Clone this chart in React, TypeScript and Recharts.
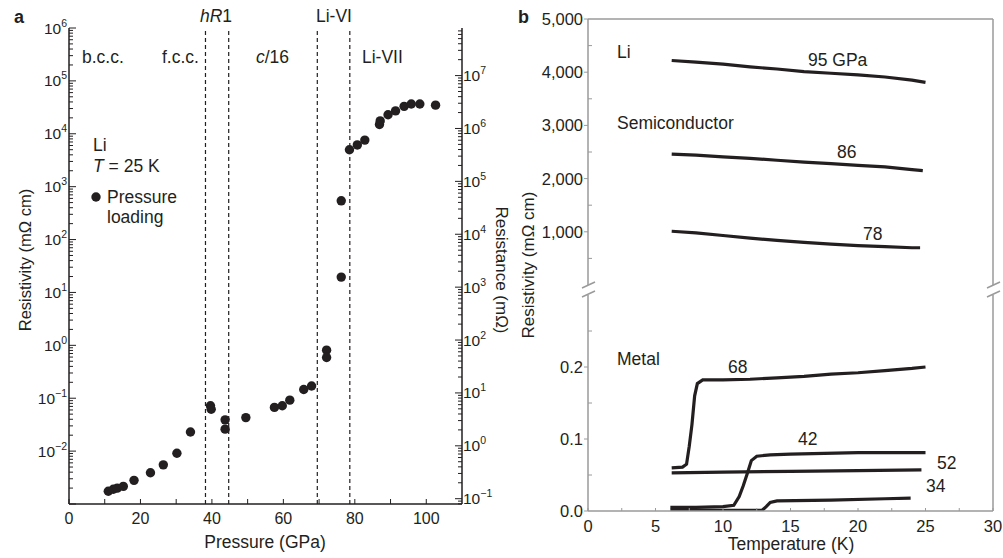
import React from 'react';
import { ScatterChart, Scatter, XAxis, YAxis, ReferenceLine, LineChart, Line } from 'recharts';

const FONT = '"Liberation Sans", Arial, Helvetica, sans-serif';
const INK = '#231f20';
const GRAY = '#9a9a9a';

// ---------- Panel a data ----------
const pressureGPa = [11.0, 12.4, 13.5, 15.2, 18.2, 22.8, 26.4, 30.2, 34.0, 39.6, 39.8, 43.7, 43.7, 49.5, 57.5, 59.7, 61.8, 65.7, 67.9, 72.1, 72.1, 76.2, 76.2, 78.5, 80.7, 82.8, 86.9, 87.1, 89.3, 91.4, 93.8, 95.8, 98.2, 102.6];
const resistivityA = [0.00174, 0.0019, 0.002, 0.00215, 0.0028, 0.0039, 0.0055, 0.0091, 0.023, 0.072, 0.062, 0.039, 0.026, 0.043, 0.067, 0.072, 0.092, 0.146, 0.17, 0.81, 0.59, 19.5, 540, 5000, 6150, 7600, 15000, 17500, 22900, 27100, 33000, 36500, 36500, 34800];
const phaseBoundaries = [38.2, 44.7, 69.5, 78.6];
const pressureTicks = [0, 10, 20, 30, 40, 50, 60, 70, 80, 90, 100];
const leftDecades = [-3, -2, -1, 0, 1, 2, 3, 4, 5, 6];
const leftLabelDecades = [-2, -1, 0, 1, 2, 3, 4, 5, 6];
const rightDecades = [-2, -1, 0, 1, 2, 3, 4, 5, 6, 7];
const rightLabelDecades = [-1, 0, 1, 2, 3, 4, 5, 6, 7];
const minorMultipliers = [1, 2, 3, 4, 5, 6, 7, 8, 9];
const leftDomain = [1e-3, 1e6];
const rightDomain = [0.0794, 7.94e7];

// ---------- Panel b data ----------
const s95T = [6.2, 8, 10, 12, 14, 16, 18, 20, 22, 24, 25];
const s95V = [4220, 4190, 4150, 4100, 4060, 4010, 3980, 3950, 3910, 3850, 3810];
const s86T = [6.2, 8, 10, 12, 14, 16, 18, 20, 22, 24, 24.8];
const s86V = [2460, 2440, 2410, 2380, 2345, 2310, 2280, 2250, 2220, 2170, 2150];
const s78T = [6.2, 8, 10, 12, 14, 16, 18, 20, 22, 24, 24.6];
const s78V = [1010, 980, 930, 880, 840, 800, 770, 740, 720, 700, 700];

const s68T = [6.2, 7.0, 7.3, 7.5, 7.7, 7.9, 8.1, 8.5, 10, 12, 14, 16, 18, 20, 22, 24, 25];
const s68V = [0.060, 0.061, 0.065, 0.09, 0.12, 0.16, 0.177, 0.182, 0.182, 0.183, 0.185, 0.187, 0.19, 0.192, 0.195, 0.198, 0.2];
const s52T = [6.2, 10, 15, 20, 24.7];
const s52V = [0.053, 0.054, 0.055, 0.056, 0.057];
const s42T = [6.1, 8, 10, 10.8, 11.2, 11.5, 11.8, 12.1, 12.5, 13.5, 15, 20, 25];
const s42V = [0.005, 0.005, 0.006, 0.008, 0.02, 0.035, 0.052, 0.07, 0.076, 0.078, 0.079, 0.081, 0.081];
const s34T = [6.1, 10, 12.9, 13.2, 13.5, 14, 18, 22, 23.9];
const s34V = [0.001, 0.001, 0.001, 0.006, 0.012, 0.014, 0.015, 0.017, 0.018];

const upperTicks = [500, 1000, 1500, 2000, 2500, 3000, 3500, 4000, 4500, 5000];
const upperLabels = [1000, 2000, 3000, 4000, 5000];
const lowerTicks = [0, 0.05, 0.1, 0.15, 0.2, 0.25];
const lowerLabels = [0, 0.1, 0.2];
const tempTicks = [0, 2.5, 5, 7.5, 10, 12.5, 15, 17.5, 20, 22.5, 25, 27.5, 30];
const tempLabels = [0, 5, 10, 15, 20, 25, 30];

const zip = (xs: number[], ys: number[]) => xs.map((t, i) => ({ t, v: ys[i] }));
const scatterData = pressureGPa.map((p, i) => ({ p, r: resistivityA[i] }));

const logTicks = (domain: number[], decades: number[]) => {
  const out: number[] = [];
  for (const e of decades) {
    for (const k of minorMultipliers) {
      const v = Number((k * Math.pow(10, e)).toPrecision(3));
      if (v >= domain[0] * 0.999 && v <= domain[1] * 1.001) out.push(v);
    }
  }
  return out;
};
const leftTicks = logTicks(leftDomain, leftDecades);
const rightTicks = logTicks(rightDomain, rightDecades);

const decadeOf = (v: number) => {
  const e = Math.log10(v);
  return Math.abs(e - Math.round(e)) < 1e-6 ? Math.round(e) : null;
};
const sup = (e: number) => (e < 0 ? '\u2212' + Math.abs(e) : String(e));

const LeftLogTick = (props: any) => {
  const { x, y, payload } = props;
  const e = decadeOf(payload.value);
  const major = e !== null;
  return (
    <g>
      <line x1={x} x2={x + (major ? 7 : 4)} y1={y} y2={y} stroke={INK} strokeWidth={1} />
      {major && leftLabelDecades.includes(e as number) && (
        <text x={x - 2} y={y + 5.5} textAnchor="end" fontFamily={FONT} fontSize={15.5} fill={INK}>
          10<tspan dy={-7} fontSize={10.5}>{sup(e as number)}</tspan>
        </text>
      )}
    </g>
  );
};

const RightLogTick = (props: any) => {
  const { x, y, payload } = props;
  const e = decadeOf(payload.value);
  const major = e !== null;
  return (
    <g>
      <line x1={x} x2={x - (major ? 7 : 4)} y1={y} y2={y} stroke={INK} strokeWidth={1} />
      {major && rightLabelDecades.includes(e as number) && (
        <text x={x + 1} y={y + 5.5} textAnchor="start" fontFamily={FONT} fontSize={15.5} fill={INK}>
          10<tspan dy={-7} fontSize={10.5}>{sup(e as number)}</tspan>
        </text>
      )}
    </g>
  );
};

const PressureTick = (props: any) => {
  const { x, y, payload } = props;
  const v = payload.value;
  return (
    <g>
      <line x1={x} x2={x} y1={y} y2={y - 5} stroke={INK} strokeWidth={1} />
      {v % 20 === 0 && (
        <text x={x} y={y + 20} textAnchor="middle" fontFamily={FONT} fontSize={16} fill={INK}>{v}</text>
      )}
    </g>
  );
};

const TopTick = (props: any) => {
  const { x, y } = props;
  return <line x1={x} x2={x} y1={y} y2={y + 5} stroke={INK} strokeWidth={1} />;
};

const makeLinearLeftTick = (labels: number[], fmt: (v: number) => string) => (props: any) => {
  const { x, y, payload } = props;
  const v = payload.value;
  const major = labels.some((l) => Math.abs(l - v) < 1e-9);
  return (
    <g>
      {major ? (
        <line x1={x} x2={x - 4} y1={y} y2={y} stroke={GRAY} strokeWidth={1} />
      ) : (
        <line x1={x} x2={x + 4} y1={y} y2={y} stroke={GRAY} strokeWidth={1} />
      )}
      {major && (
        <text x={x - 5} y={y + 6} textAnchor="end" fontFamily={FONT} fontSize={16.5} fill={INK}>{fmt(v)}</text>
      )}
    </g>
  );
};
const UpperTick = makeLinearLeftTick(upperLabels, (v) => v.toLocaleString('en-US'));
const LowerTick = makeLinearLeftTick(lowerLabels, (v) => v.toFixed(1));

const TempTick = (props: any) => {
  const { x, y, payload } = props;
  const v = payload.value;
  const major = tempLabels.includes(v);
  return (
    <g>
      <line x1={x} x2={x} y1={y} y2={y - 3} stroke={GRAY} strokeWidth={1} />
      {major && (
        <text x={x} y={y + 21} textAnchor="middle" fontFamily={FONT} fontSize={16.5} fill={INK}>{v}</text>
      )}
    </g>
  );
};

const PanelA = () => (
  <ScatterChart width={500} height={558} margin={{ top: 28, right: 2, bottom: 24, left: 19 }}>
    <XAxis xAxisId="b" type="number" dataKey="p" domain={[0, 110]} ticks={pressureTicks} interval={0}
      tickSize={0} tickMargin={0} tick={<PressureTick />} axisLine={{ stroke: INK, strokeWidth: 1.5 }} height={30} allowDataOverflow />
    <XAxis xAxisId="t" orientation="top" type="number" domain={[0, 110]} ticks={pressureTicks} interval={0}
      tickSize={0} tickMargin={0} tick={<TopTick />} axisLine={{ stroke: INK, strokeWidth: 1.5 }} height={0} allowDataOverflow />
    <YAxis yAxisId="L" type="number" dataKey="r" scale="log" domain={leftDomain} ticks={leftTicks} interval={0}
      tickSize={0} tickMargin={0} tick={<LeftLogTick />} axisLine={{ stroke: INK, strokeWidth: 1.5 }} width={50} allowDataOverflow />
    <YAxis yAxisId="R" orientation="right" type="number" scale="log" domain={rightDomain} ticks={rightTicks} interval={0}
      tickSize={0} tickMargin={0} tick={<RightLogTick />} axisLine={{ stroke: INK, strokeWidth: 1.5 }} width={36} allowDataOverflow />
    {phaseBoundaries.map((p) => (
      <ReferenceLine key={p} xAxisId="b" yAxisId="L" x={p} stroke={INK} strokeWidth={1.2} strokeDasharray="4 3" />
    ))}
    <Scatter xAxisId="b" yAxisId="L" data={scatterData} isAnimationActive={false}
      shape={(s: any) => <circle cx={s.cx} cy={s.cy} r={4.7} fill={INK} />} />
  </ScatterChart>
);

const lineProps = { type: 'linear' as const, dataKey: 'v', stroke: INK, strokeWidth: 3.2, dot: false, isAnimationActive: false };

const PanelBUpper = () => (
  <LineChart width={503} height={300} margin={{ top: 18, right: 9, bottom: 15, left: 0 }}>
    <XAxis type="number" dataKey="t" domain={[0, 30]} hide allowDataOverflow />
    <XAxis xAxisId="t" orientation="top" type="number" domain={[0, 30]} ticks={[0, 30]} tick={false} tickLine={false}
      axisLine={{ stroke: GRAY, strokeWidth: 1.5 }} height={1} allowDataOverflow />
    <YAxis type="number" domain={[0, 5000]} ticks={upperTicks} interval={0} tickSize={0} tickMargin={0}
      tick={<UpperTick />} axisLine={{ stroke: GRAY, strokeWidth: 1.5 }} width={88} allowDataOverflow />
    <YAxis yAxisId="r" orientation="right" type="number" domain={[0, 5000]} ticks={[0, 5000]} tick={false} tickLine={false}
      axisLine={{ stroke: GRAY, strokeWidth: 1.5 }} width={1} allowDataOverflow />
    <Line {...lineProps} data={zip(s95T, s95V)} />
    <Line {...lineProps} data={zip(s86T, s86V)} />
    <Line {...lineProps} data={zip(s78T, s78V)} />
  </LineChart>
);

const PanelBLower = () => (
  <LineChart width={503} height={273} margin={{ top: 10, right: 9, bottom: 17, left: 0 }}>
    <XAxis type="number" dataKey="t" domain={[0, 30]} ticks={tempTicks} interval={0} tickSize={0} tickMargin={0}
      tick={<TempTick />} axisLine={{ stroke: GRAY, strokeWidth: 1.5 }} height={30} allowDataOverflow />
    <YAxis type="number" domain={[0, 0.3]} ticks={lowerTicks} interval={0} tickSize={0} tickMargin={0}
      tick={<LowerTick />} axisLine={{ stroke: GRAY, strokeWidth: 1.5 }} width={88} allowDataOverflow />
    <YAxis yAxisId="r" orientation="right" type="number" domain={[0, 0.3]} ticks={[0, 0.3]} tick={false} tickLine={false}
      axisLine={{ stroke: GRAY, strokeWidth: 1.5 }} width={1} allowDataOverflow />
    <Line {...lineProps} data={zip(s68T, s68V)} />
    <Line {...lineProps} data={zip(s52T, s52V)} />
    <Line {...lineProps} data={zip(s42T, s42V)} />
    <Line {...lineProps} data={zip(s34T, s34V)} />
  </LineChart>
);

const T = (p: any) => <text fontFamily={FONT} fontSize={17.5} fill={INK} {...p} />;

export default function App() {
  return (
    <div style={{ position: 'absolute', left: 0, top: 0, width: 1003, height: 558, background: '#fff', overflow: 'hidden' }}>
      <div style={{ position: 'absolute', left: 0, top: 0 }}><PanelA /></div>
      <div style={{ position: 'absolute', left: 500, top: 0 }}><PanelBUpper /></div>
      <div style={{ position: 'absolute', left: 500, top: 285 }}><PanelBLower /></div>
      <svg width={1003} height={558} style={{ position: 'absolute', left: 0, top: 0, pointerEvents: 'none' }}>
        {/* panel a */}
        <text x={14} y={23} fontFamily={FONT} fontSize={18} fontWeight="bold" fill={INK}>a</text>
        <T x={216} y={22} textAnchor="middle"><tspan fontStyle="italic">hR</tspan>1</T>
        <T x={334} y={22} textAnchor="middle">Li-VI</T>
        <T x={82} y={63}>b.c.c.</T>
        <T x={162} y={63}>f.c.c.</T>
        <T x={256} y={63}><tspan fontStyle="italic">c</tspan>/16</T>
        <T x={362} y={63}>Li-VII</T>
        <T x={93} y={151}>Li</T>
        <T x={93} y={172}><tspan fontStyle="italic">T</tspan> = 25 K</T>
        <circle cx={96} cy={197} r={4.7} fill={INK} />
        <T x={107} y={203}>Pressure</T>
        <T x={107} y={223}>loading</T>
        <T x={265} y={548} textAnchor="middle">Pressure (GPa)</T>
        <T x={0} y={0} textAnchor="middle" fontSize={16.5} transform="translate(31 260) rotate(-90)">Resistivity (mΩ cm)</T>
        <T x={0} y={0} textAnchor="middle" fontSize={17} transform="translate(496 270) rotate(90)">Resistance (mΩ)</T>
        {/* panel b */}
        <text x={518} y={23} fontFamily={FONT} fontSize={18} fontWeight="bold" fill={INK}>b</text>
        <T x={0} y={0} textAnchor="middle" fontSize={17} transform="translate(534 265) rotate(-90)">Resistivity (mΩ cm)</T>
        <T x={617} y={58}>Li</T>
        <T x={808} y={66}>95 GPa</T>
        <T x={617} y={129}>Semiconductor</T>
        <T x={837} y={158}>86</T>
        <T x={863} y={240}>78</T>
        <T x={617} y={365}>Metal</T>
        <T x={728} y={373}>68</T>
        <T x={798} y={445}>42</T>
        <T x={937} y={469}>52</T>
        <T x={926} y={492}>34</T>
        <T x={791} y={550} textAnchor="middle">Temperature (K)</T>
        {/* axis break marks */}
        <g stroke={GRAY} strokeWidth={1.5}>
          <line x1={582} y1={288} x2={595} y2={282} />
          <line x1={582} y1={297} x2={595} y2={291} />
          <line x1={987} y1={288} x2={1000} y2={282} />
          <line x1={987} y1={297} x2={1000} y2={291} />
        </g>
      </svg>
    </div>
  );
}
